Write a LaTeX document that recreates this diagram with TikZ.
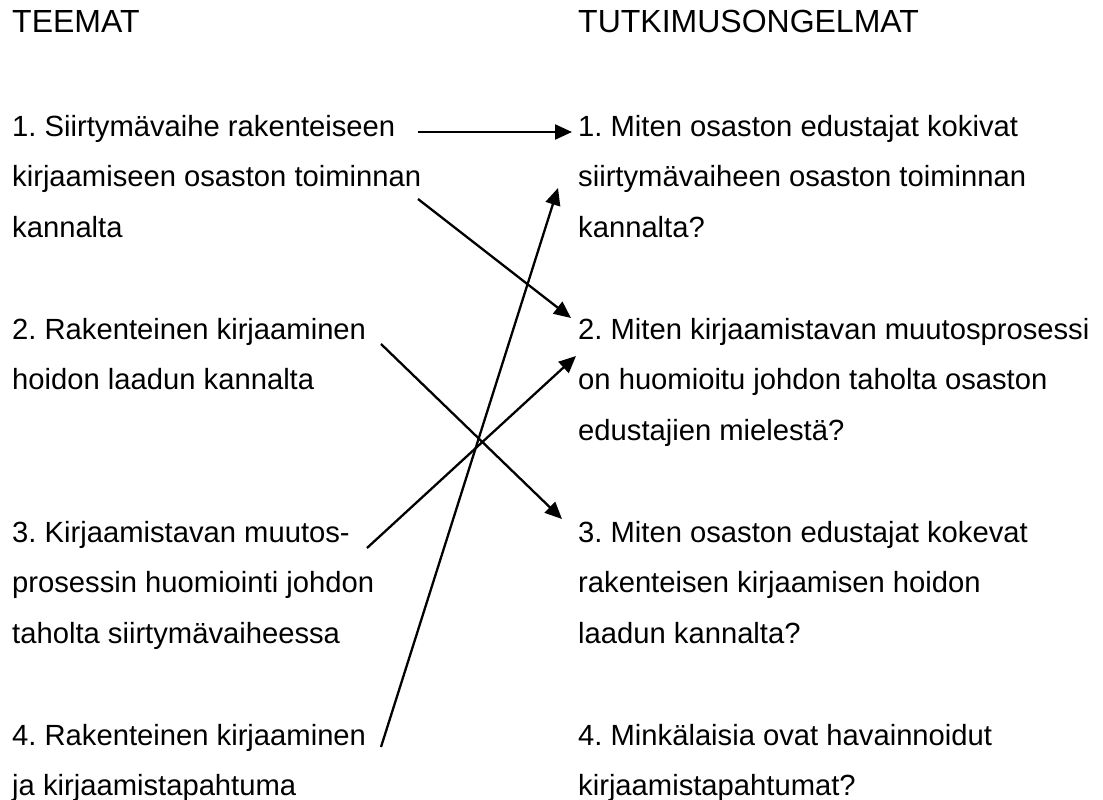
\documentclass[tikz,border=0pt]{standalone}
\usepackage{fontspec}
\setmainfont{Liberation Sans}
\usetikzlibrary{arrows.meta}
\frenchspacing
\tikzset{
  body/.style={font=\frenchspacing\fontsize{29.2}{50.75}\selectfont, inner sep=0pt, anchor=base west},
  head/.style={font=\fontsize{32}{50.75}\selectfont, inner sep=0pt, anchor=base west},
  arr/.style={line width=2.3pt, -{Triangle[length=17pt,width=15pt]}}
}
\begin{document}
\begin{tikzpicture}[x=1pt,y=-1pt]
\useasboundingbox (0,0) rectangle (1103,800);
\fill[white] (0,0) rectangle (1103,800);
% left column
\node[head] (t0) at (12,33) {TEEMAT};
\node[body] (t1) at (12,136) {\vtop{\hbox{1. Siirtymävaihe rakenteiseen}\hbox{kirjaamiseen osaston toiminnan}\hbox{kannalta}}};
\node[body] (t2) at (12,339) {\vtop{\hbox{2. Rakenteinen kirjaaminen}\hbox{hoidon laadun kannalta}}};
\node[body] (t3) at (12,542) {\vtop{\hbox{3. Kirjaamistavan muutos-}\hbox{prosessin huomiointi johdon}\hbox{taholta siirtymävaiheessa}}};
\node[body] (t4) at (12,745) {\vtop{\hbox{4. Rakenteinen kirjaaminen}\hbox{ja kirjaamistapahtuma}}};
% right column
\node[head] (q0) at (578,33) {TUTKIMUSONGELMAT};
\node[body] (q1) at (578,136) {\vtop{\hbox{1. Miten osaston edustajat kokivat}\hbox{siirtymävaiheen osaston toiminnan}\hbox{kannalta?}}};
\node[body] (q2) at (578,339) {\vtop{\hbox{2. Miten kirjaamistavan muutosprosessi}\hbox{on huomioitu johdon taholta osaston}\hbox{edustajien mielestä?}}};
\node[body] (q3) at (578,542) {\vtop{\hbox{3. Miten osaston edustajat kokevat}\hbox{rakenteisen kirjaamisen hoidon}\hbox{laadun kannalta?}}};
\node[body] (q4) at (578,745) {\vtop{\hbox{4. Minkälaisia ovat havainnoidut}\hbox{kirjaamistapahtumat?}}};
% connector ends
\coordinate (a1s) at (418,132); \coordinate (a1e) at (572,132);
\coordinate (a2s) at (418,199); \coordinate (a2e) at (571,318);
\coordinate (a3s) at (381,344); \coordinate (a3e) at (562,519);
\coordinate (a4s) at (367,548); \coordinate (a4e) at (576,356);
\coordinate (a5s) at (381,747); \coordinate (a5e) at (558,188);
\draw[arr] (a1s) -- (a1e);
\draw[arr] (a2s) -- (a2e);
\draw[arr] (a3s) -- (a3e);
\draw[arr] (a4s) -- (a4e);
\draw[arr] (a5s) -- (a5e);
\end{tikzpicture}
\end{document}
